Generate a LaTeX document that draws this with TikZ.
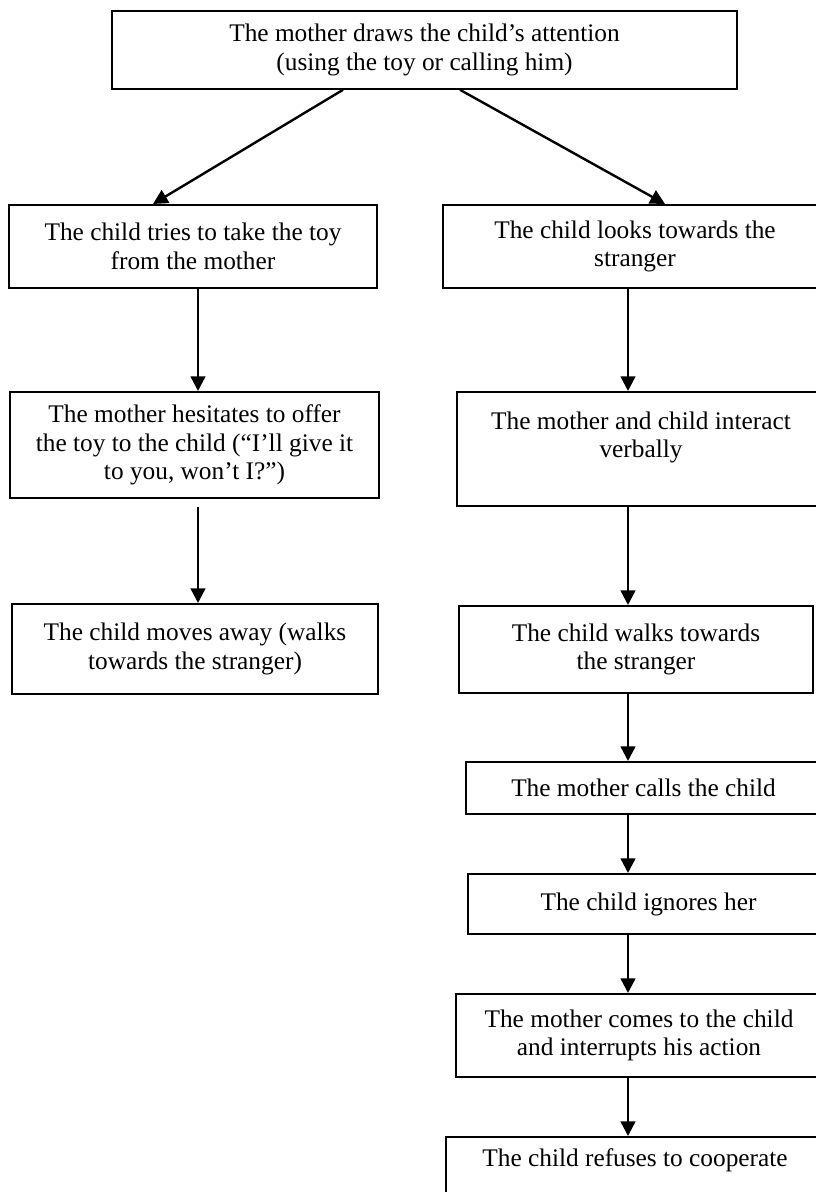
\documentclass[tikz,border=0pt]{standalone}
\usepackage{fontspec}
\setmainfont{Liberation Serif}
\usetikzlibrary{arrows.meta}

\tikzset{
  stepbox/.style={draw, line width=1.5pt, align=center, inner sep=0pt,
    font=\fontsize{19pt}{21.4pt}\selectfont},
  flow/.style={line width=1.8pt, -{Triangle[length=11pt,width=11pt]}},
}

\begin{document}
\begin{tikzpicture}[x=0.75pt,y=-0.75pt]
    \useasboundingbox (0,0) rectangle (816,1192);
    \clip (0,0) rectangle (816,1192);

      \node[stepbox, line width=1.2pt, minimum width=468.75pt, minimum height=58.5pt] (s0) at (424.5,50)
        {The mother draws the child’s attention\\(using the toy or calling him)};

      \node[stepbox, minimum width=276pt, minimum height=62.25pt] (l1) at (193,246.5)
        {The child tries to take the toy\\from the mother};
      \node[stepbox, minimum width=276.75pt, minimum height=79.5pt] (l2) at (194.5,445)
        {The mother hesitates to offer\\the toy to the child (“I’ll give it\\to you, won’t I?”)};
      \node[stepbox, minimum width=274.5pt, minimum height=67.5pt] (l3) at (195,649)
        {The child moves away (walks\\towards the stranger)};

      \node[stepbox, minimum width=288pt, minimum height=62.25pt] (r1) at (635,246.5)
        {The child looks towards the\\stranger};
      \node[stepbox, minimum width=276pt, minimum height=85.5pt] (r2) at (641,449)
        {The mother and child interact\\verbally\\\mbox{}};
      \node[stepbox, minimum width=265.5pt, minimum height=65.25pt] (r3) at (636,649.5)
        {The child walks towards\\the stranger};
      \node[stepbox, minimum width=266.25pt, minimum height=39pt] (r4) at (643.5,788)
        {The mother calls the child};
      \node[stepbox, minimum width=270.75pt, minimum height=45pt] (r5) at (648.5,904)
        {The child ignores her};
      \node[stepbox, minimum width=274.5pt, minimum height=62.25pt] (r6) at (639,1035.5)
        {The mother comes to the child\\and interrupts his action};
      \node[stepbox, minimum width=283.5pt, minimum height=52.5pt] (r7) at (635,1172)
        {The child refuses to cooperate\\\mbox{}};

      \coordinate (lcol) at (198,0);
      \coordinate (rcol) at (628,0);
      \coordinate (splitl) at (343,0);
      \coordinate (splitr) at (460,0);
      \coordinate (tipl) at (153,0);
      \coordinate (tipr) at (665,0);

      \draw[flow] (s0.south -| splitl) -- (l1.north -| tipl);
      \draw[flow] (s0.south -| splitr) -- (r1.north -| tipr);

      \draw[flow] (l1.south -| lcol) -- (l2.north -| lcol);
      \draw[flow] ([yshift=-6pt]l2.south -| lcol) -- (l3.north -| lcol);

      \draw[flow] (r1.south -| rcol) -- (r2.north -| rcol);
      \draw[flow] (r2.south -| rcol) -- (r3.north -| rcol);
      \draw[flow] (r3.south -| rcol) -- (r4.north -| rcol);
      \draw[flow] (r4.south -| rcol) -- (r5.north -| rcol);
      \draw[flow] (r5.south -| rcol) -- (r6.north -| rcol);
      \draw[flow] (r6.south -| rcol) -- (r7.north -| rcol);
\end{tikzpicture}
\end{document}
